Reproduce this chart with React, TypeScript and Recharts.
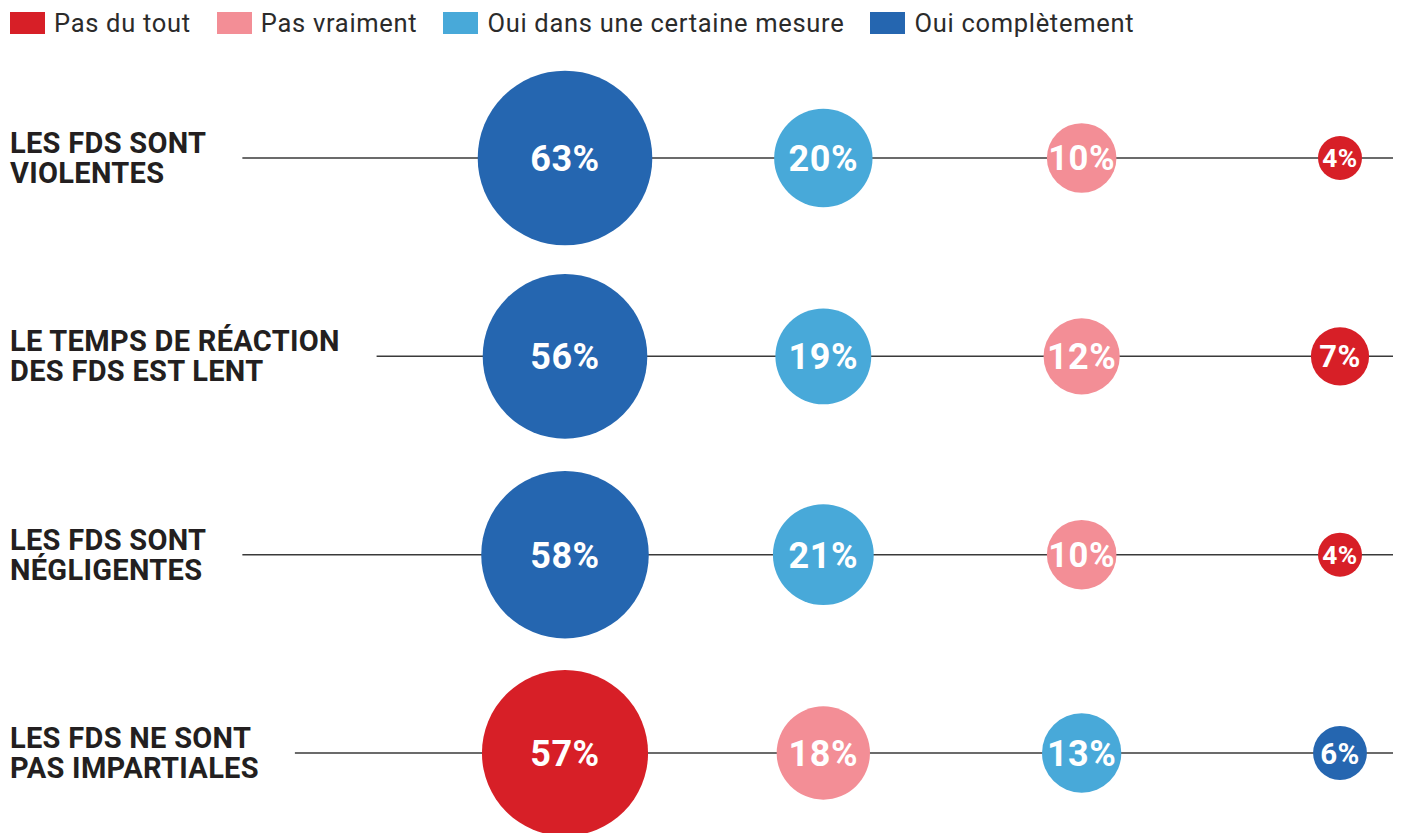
import React from 'react';
import { ScatterChart, Scatter, XAxis, YAxis, ZAxis, Legend } from 'recharts';

const statements: string[][] = [
  ['LES FDS SONT', 'VIOLENTES'],
  ['LE TEMPS DE RÉACTION', 'DES FDS EST LENT'],
  ['LES FDS SONT', 'NÉGLIGENTES'],
  ['LES FDS NE SONT', 'PAS IMPARTIALES'],
];
const categories = ['Pas du tout', 'Pas vraiment', 'Oui dans une certaine mesure', 'Oui complètement'];
const pasDuTout = [4, 7, 4, 57];
const pasVraiment = [10, 12, 10, 18];
const ouiCertaine = [20, 19, 21, 13];
const ouiCompletement = [63, 56, 58, 6];
const seriesValues = [pasDuTout, pasVraiment, ouiCertaine, ouiCompletement];
const rowTicks = [0, 1, 2, 3];

const colors = ['#D71F27', '#F38E96', '#48A9D9', '#2566B0'];
const CHART_W = 1402;
const CHART_H = 833;
const LABEL_FONT = 'Roboto, "Noto Sans", sans-serif';
const LABEL_SIZE = 29;
const LABEL_SPACING = 0.3;
const BUBBLE_K = 11; // radius = K * sqrt(value)

const seriesData = categories.map((_, s) =>
  statements.map((__, r) => {
    const rowVals = seriesValues.map((v) => v[r]);
    const v = seriesValues[s][r];
    const col = rowVals.filter((x) => x > v).length;
    return { col, row: r, value: v };
  })
);
const rowLineData = statements.map((_, r) => ({ col: 0, row: r, value: 0 }));

let ctx: CanvasRenderingContext2D | null = null;
const measure = (t: string) => {
  if (!ctx) ctx = document.createElement('canvas').getContext('2d');
  if (!ctx) return t.length * 16;
  ctx.font = `bold ${LABEL_SIZE}px ${LABEL_FONT}`;
  return ctx.measureText(t).width + t.length * LABEL_SPACING;
};

const RowTick = (props: any) => {
  const { y, payload } = props;
  const lines = statements[payload.value];
  if (!lines) return null;
  return (
    <text
      x={10}
      y={y}
      fontFamily={LABEL_FONT}
      fontWeight={700}
      fontSize={LABEL_SIZE}
      letterSpacing={LABEL_SPACING}
      fill="#231f20"
    >
      <tspan x={10} y={y - 5}>{lines[0]}</tspan>
      <tspan x={10} y={y + 25}>{lines[1]}</tspan>
    </text>
  );
};

const RowLine = (props: any) => {
  const { cy, payload } = props;
  const lines = statements[payload.row];
  const w = Math.max(...lines.map(measure));
  return <line x1={10 + w + 36} x2={CHART_W - 9} y1={cy} y2={cy} stroke="#3a3a3a" strokeWidth={1.5} />;
};

const Bubble = (props: any) => {
  const { cx, cy, size, payload, color } = props;
  const r = size != null ? Math.sqrt(size / Math.PI) : BUBBLE_K * Math.sqrt(payload.value);
  const fs = Math.min(36, 12 + r * 0.65);
  return (
    <g>
      <circle cx={cx} cy={cy} r={r} fill={color} />
      <text
        x={cx}
        y={cy + fs * 0.36}
        textAnchor="middle"
        fill="#ffffff"
        fontFamily={LABEL_FONT}
        fontWeight={700}
        fontSize={fs}
        letterSpacing={0.5}
      >
        {payload.value}%
      </text>
    </g>
  );
};

const LegendContent = () => (
  <div
    style={{
      display: 'flex',
      alignItems: 'center',
      height: 46,
      paddingLeft: 10,
      fontFamily: LABEL_FONT,
      fontSize: 25.5,
      letterSpacing: 0.7,
      color: '#2b2b2b',
    }}
  >
    {categories.map((c, i) => (
      <div key={c} style={{ display: 'flex', alignItems: 'center', marginRight: 26 }}>
        <div style={{ width: 35, height: 22, background: colors[i], marginRight: 9 }} />
        <span>{c}</span>
      </div>
    ))}
  </div>
);

export default function App() {
  return (
    <div style={{ position: 'absolute', left: 0, top: 0, background: '#fff' }}>
      <ScatterChart width={CHART_W} height={CHART_H} margin={{ top: 0, right: 62, bottom: 80, left: 0 }}>
        <Legend
          verticalAlign="top"
          align="left"
          content={<LegendContent />}
          wrapperStyle={{ left: 0, top: 0, width: CHART_W }}
        />
        <XAxis type="number" dataKey="col" domain={[0, 3]} hide />
        <YAxis
          type="number"
          dataKey="row"
          domain={[0, 3]}
          ticks={rowTicks}
          reversed
          width={565}
          axisLine={false}
          tickLine={false}
          padding={{ top: 112, bottom: 0 }}
          tick={<RowTick />}
          interval={0}
        />
        <ZAxis type="number" dataKey="value" domain={[0, 100]} range={[0, 100 * BUBBLE_K * BUBBLE_K * Math.PI]} />
        <Scatter
          name="rows"
          legendType="none"
          data={rowLineData}
          isAnimationActive={false}
          shape={(p: any) => <RowLine {...p} />}
        />
        {categories.map((c, i) => (
          <Scatter
            key={c}
            name={c}
            data={seriesData[i]}
            fill={colors[i]}
            isAnimationActive={false}
            shape={(p: any) => <Bubble {...p} color={colors[i]} />}
          />
        ))}
      </ScatterChart>
    </div>
  );
}
